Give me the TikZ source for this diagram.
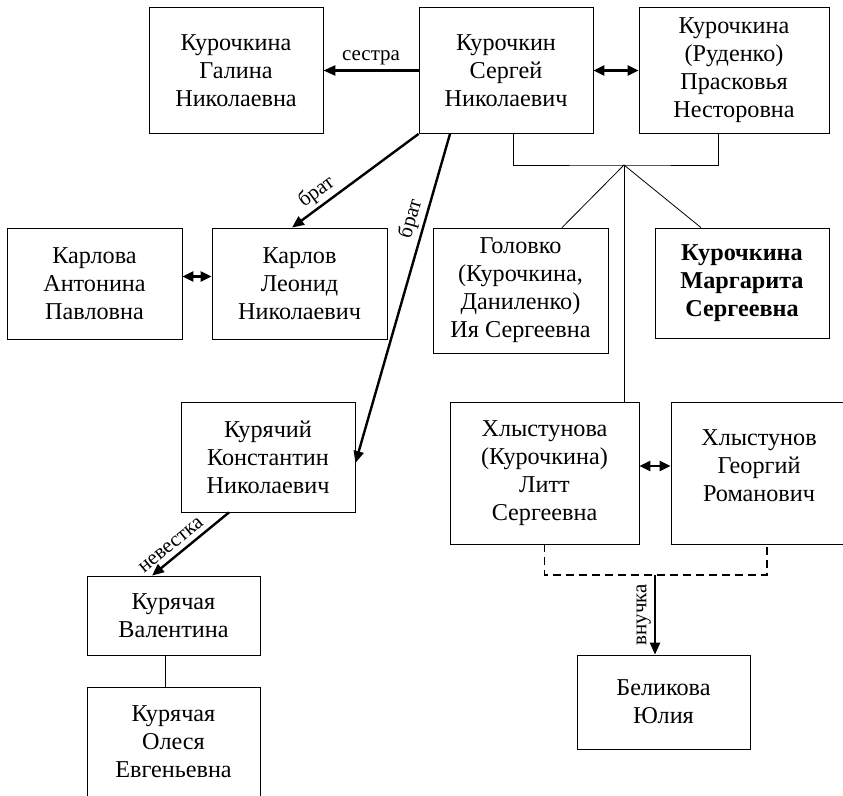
\documentclass[tikz,border=0pt]{standalone}
\usepackage{fontspec}
\setmainfont{Liberation Serif}
\usetikzlibrary{arrows.meta}
\newcommand{\namefont}{\fontsize{24.2}{28}\selectfont}
\newcommand{\linkfont}{\fontsize{21}{24}\selectfont}

\begin{document}
\begin{tikzpicture}[x=1pt, y=-1pt,
  person/.style={draw, line width=0.8pt, align=center, inner sep=1pt, font=\namefont},
  link/.style={line width=2.4pt, -{Triangle[length=12pt,width=10pt]}},
  spouse/.style={line width=2.4pt, {Triangle[length=11pt,width=10pt]}-{Triangle[length=11pt,width=10pt]}},
  kin/.style={line width=0.8pt},
  grand/.style={line width=1.8pt, dash pattern=on 8pt off 5pt},
  linktext/.style={font=\linkfont, sloped, inner sep=3pt}]
\useasboundingbox (0,0) rectangle (843,795);
\coordinate (fam) at (624,165); \coordinate (kids) at (655,575);
\node[person, minimum width=174pt, minimum height=126pt] (gal) at (236,70.5) {Курочкина\\Галина\\Николаевна};
\node[person, minimum width=174pt, minimum height=126pt] (serg) at (506,70.5) {Курочкин\\Сергей\\Николаевич};
\node[person, minimum width=190pt, minimum height=126pt] (prask) at (734,70.5) {Курочкина\\(Руденко)\\Прасковья\\Несторовна};
\node[person, minimum width=175pt, minimum height=111pt] (anton) at (94.5,283.5) {Карлова\\Антонина\\Павловна};
\node[person, minimum width=175pt, minimum height=111pt] (leon) at (299.5,283.5) {Карлов\\Леонид\\Николаевич};
\node[person, minimum width=175pt, minimum height=125pt] (iya) at (520.5,290.5) {Головко\\(Курочкина,\\Даниленко)\\Ия Сергеевна};
\node[person, minimum width=174pt, minimum height=110pt, font=\namefont\bfseries] (marg) at (742,283) {Курочкина\\Маргарита\\Сергеевна};
\node[person, minimum width=174pt, minimum height=110pt] (konst) at (268,457) {Курячий\\Константин\\Николаевич};
\node[person, minimum width=189pt, minimum height=142pt] (litt) at (544.5,473) {Хлыстунова\\(Курочкина)\\Литт\\Сергеевна};
\node[person, minimum width=176pt, minimum height=142pt, text depth=14pt] (georg) at (759,473) {Хлыстунов\\Георгий\\Романович};
\node[person, minimum width=173pt, minimum height=79pt] (val) at (173.5,615.5) {Курячая\\Валентина};
\node[person, minimum width=173pt, minimum height=110pt] (oles) at (173.5,742) {Курячая\\Олеся\\Евгеньевна};
\node[person, minimum width=173pt, minimum height=94pt] (yul) at (663.5,702) {Беликова\\Юлия};
\draw[link] (serg) -- (gal) node[linktext, above, midway, inner sep=4pt] {сестра};
\draw[spouse] (serg) -- (prask);
\draw[kin] ([xshift=7pt]serg.south) |- (fam) -| ([xshift=-16pt]prask.south);
\draw[kin] (fam) -- ([xshift=41.5pt]iya.north);
\draw[kin] (fam) -- ([xshift=-41pt]marg.north);
\draw[kin] (fam) -- (fam |- litt.north);
\draw[link] (serg.south west) -- ([xshift=-7.5pt]leon.north) node[linktext, above, pos=0.74] {брат};
\draw[link] ([xshift=-56pt]serg.south) -- ([yshift=-6pt]konst.east) node[linktext, above, pos=0.27] {брат};
\draw[spouse] ([yshift=7pt]anton.east) -- ([yshift=7pt]leon.west);
\draw[link] ([xshift=-39pt]konst.south) -- ([xshift=-21.5pt]val.north) node[linktext, above, pos=0.66, inner sep=5pt] {невестка};
\draw[kin] ([xshift=-8pt]val.south) -- ([xshift=-8pt]oles.north);
\draw[spouse] ([yshift=7pt]litt.east) -- ([yshift=7pt]georg.west);
\draw[grand] (litt.south) |- (kids) -| ([xshift=8pt]georg.south);
\draw[link] (kids) -- (kids |- yul.north) node[font=\linkfont, inner sep=3pt, midway, rotate=90, anchor=south] {внучка};
\end{tikzpicture}
\end{document}
